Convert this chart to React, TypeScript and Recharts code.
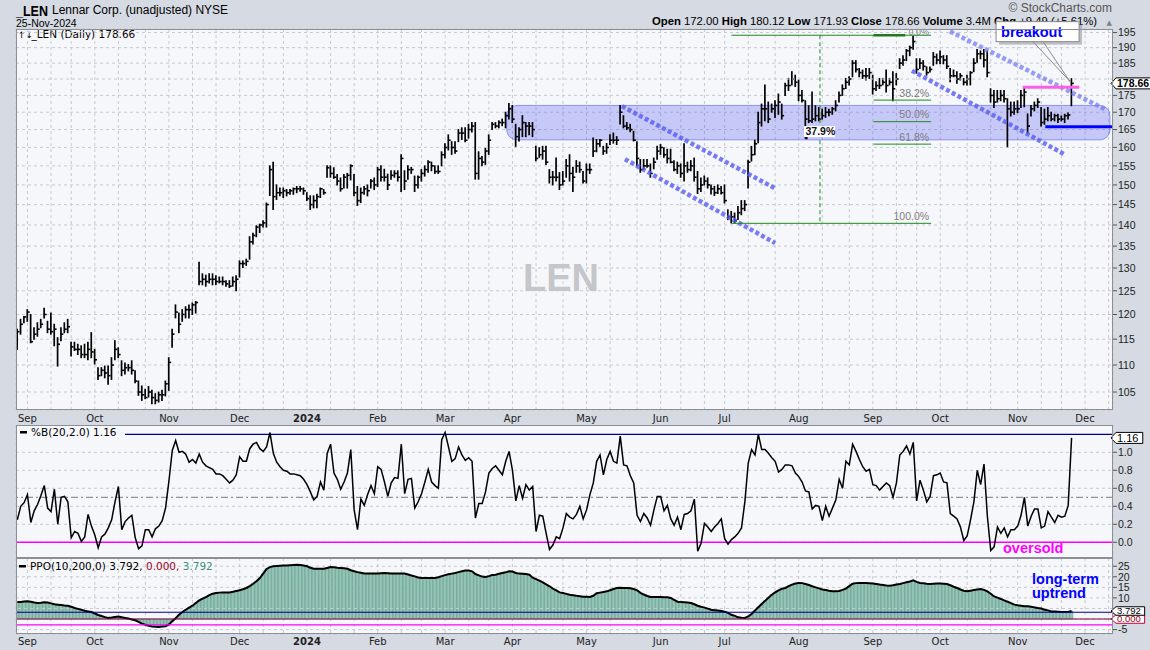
import React from 'react';
import {
  ComposedChart, Bar, Line, XAxis, YAxis, CartesianGrid, ReferenceLine, ReferenceArea, ReferenceDot,
} from 'recharts';

const FONT = "'DejaVu Sans', Verdana, sans-serif";
const HFONT = "'Liberation Sans', Arial, sans-serif";
const FRAME = '#d5dae3';
const PLOT_BG = '#f6f7fb';
const GRID = '#c6c9d0';

// first trading day of each month (bar index, bar 0 = 29-Aug-2023)
const MONTH_IDX = [3, 23, 45, 66, 86, 107, 127, 147, 169, 191, 210, 232, 254, 274, 297, 317];
const MONTH_LBL = ['Sep', 'Oct', 'Nov', 'Dec', '2024', 'Feb', 'Mar', 'Apr', 'May', 'Jun', 'Jul', 'Aug', 'Sep', 'Oct', 'Nov', 'Dec'];

const HIGH = [
  117, 119, 119.6, 121, 120, 117.3, 118.3, 119, 121.3, 118.6,
  120.3, 118, 115.3, 117.3, 118.3, 119, 114.4, 114.4, 114, 113.7,
  114, 114.4, 116.3, 113, 109.5, 109.5, 109.8, 109.8, 111.4, 114.7,
  113.3, 110.8, 110.4, 110.1, 110.8, 108.9, 107, 106.1, 105.5, 106,
  105.3, 104.7, 105, 105.3, 107, 111.4, 117, 122, 120.3, 121,
  121.6, 122, 122.4, 122.7, 131.3, 128.7, 128.4, 128.7, 128.7, 128.3,
  128, 128, 127.2, 127.2, 128, 128.3, 131.6, 131.6, 132, 137.2,
  138, 139.8, 140.2, 141, 145.4, 155, 156, 150, 149.2, 149.2,
  148.8, 148.8, 149.2, 149.6, 149.6, 149.2, 148, 147.2, 147.2, 147.6,
  149.2, 148.8, 155, 155, 154.5, 152.7, 151.8, 152.7, 153, 155.3,
  152.7, 149.6, 149.2, 149.6, 150, 151.4, 151.8, 154.6, 155, 154.1,
  152.8, 153.7, 153.7, 153.7, 158, 153.7, 155, 154.6, 152.3, 152.3,
  154, 155, 156.4, 156, 155, 155, 158.8, 161, 163.5, 161.6,
  161.6, 165, 165.5, 165.5, 166.5, 167, 167, 158.8, 157.5, 159.7,
  163.5, 167, 167, 167.5, 168, 170, 172.6, 172, 166.5, 165.5,
  169, 167, 167, 167, 160.3, 159.9, 160.3, 160.3, 154, 153.5,
  157.1, 153.2, 153.5, 156.7, 158, 154.6, 156.4, 156, 153.5, 155.5,
  155.5, 162.6, 162.2, 162.2, 160.3, 161.1, 163.5, 164, 163, 172,
  169, 167, 166.5, 164.5, 161.6, 156.7, 156.7, 156.7, 155.5, 157.1,
  160.3, 160.8, 159.9, 159.5, 159.5, 156.4, 156, 155.5, 161, 156,
  156.4, 157.1, 153.5, 151.8, 152.3, 151.8, 150, 149.6, 150, 149.6,
  150, 143.7, 143.3, 142.9, 144.5, 146, 146, 156.5, 160.3, 162,
  170, 172.4, 178.2, 173, 172.4, 173.4, 175.4, 172.4, 178.7, 180.2,
  182.3, 181.2, 179.7, 176.5, 173.4, 171.9, 176, 171.9, 171.4, 170.9,
  171.4, 170.9, 171.4, 173.4, 176, 178.2, 180.2, 180.7, 185.8, 185.8,
  183.3, 182.8, 183.3, 183.3, 181.2, 179.2, 180.2, 180.2, 182.8, 180.2,
  182.3, 181.7, 186.4, 187.4, 189.4, 190.5, 193.8, 186.4, 186.4, 185.8,
  183.8, 183.8, 188.4, 187.9, 188.9, 187.4, 187.4, 183.3, 182.8, 182.3,
  181.7, 180.2, 181.2, 182.3, 186.4, 189.4, 188.9, 189.4, 188.9, 177,
  176.5, 176.5, 176.5, 176.5, 174, 173, 173, 173.4, 176.5, 177.6,
  169.5, 172, 173, 174, 171.4, 170.9, 171.4, 170, 169.4, 169.4,
  168.9, 169.4, 169.8, 180.12,
];

const LOW = [
  113, 116, 118.3, 118.6, 114.3, 115, 115.6, 117.3, 119.3, 116.3,
  116, 113.7, 109.8, 114.7, 116.3, 116.3, 111.7, 112.8, 112, 111.4,
  111.4, 111, 111.4, 110.2, 107.3, 108, 107.6, 106.4, 107.3, 111,
  111.4, 108, 108.3, 108.9, 108.3, 106.7, 104.4, 103.5, 103.8, 104.1,
  102.9, 102.9, 103.2, 103.5, 104.3, 105.3, 113.4, 119.3, 116.3, 118.6,
  119.3, 119.3, 120, 120.3, 126.3, 126.3, 126, 126.7, 126.3, 126.3,
  126.7, 126.3, 126, 125.7, 126, 125, 128, 130.1, 130.6, 132,
  135.5, 137.2, 138.2, 139.5, 139.5, 147.3, 143.8, 146.3, 147.2, 146.8,
  147.2, 147.6, 147.6, 148, 148.4, 147.6, 146, 143.8, 144.2, 144.2,
  146.8, 147.6, 152, 152, 151.7, 150, 148.4, 149.2, 149.2, 151.3,
  147.2, 144.8, 145.5, 147.6, 147.2, 149.2, 148.8, 149.6, 151, 151,
  148.8, 151.5, 152, 151, 148.3, 148.8, 151.5, 153, 148.3, 149.2,
  151, 152.3, 153.3, 153.7, 153, 153, 155, 157.1, 159.3, 158.1,
  158.4, 161.6, 162.2, 161.6, 162.6, 164.3, 151.5, 151.5, 155, 155.4,
  158.1, 165, 165.5, 165.5, 166.1, 165.5, 168, 167, 160.3, 161.8,
  163, 163, 163.5, 163, 156.4, 157.3, 156.8, 155.4, 150.5, 150,
  151, 148.8, 150, 152, 151, 148.3, 153.3, 153.3, 150.5, 150.5,
  153, 157.5, 158.8, 160.3, 158.1, 158.4, 160.8, 161.2, 160.8, 166.6,
  165.5, 165, 164.4, 161.8, 155, 153.3, 154.2, 154.6, 152, 154.2,
  156.8, 158.1, 157.3, 155.8, 155.8, 153.7, 153, 152, 151, 153.3,
  153.7, 151, 147.8, 148.3, 150, 149.2, 147.7, 147.3, 147.8, 147.7,
  145.4, 141.3, 140.5, 140.5, 141.3, 142.5, 143.5, 149.2, 156.3, 158,
  161.3, 166, 167.5, 167, 170, 168.5, 169.4, 168, 175, 176.5,
  178.2, 177.7, 173.4, 173, 162.6, 167, 167, 167.5, 167.5, 168,
  168.5, 169, 169.4, 170.4, 173, 175, 177.1, 178.2, 180.7, 182.2,
  180.7, 180.2, 179.7, 180.2, 175.4, 176.5, 177.1, 178.2, 176, 178.2,
  173.4, 178.2, 183.3, 184.3, 185.8, 187.4, 189.5, 181.8, 183.3, 182.8,
  181.2, 182.2, 184.3, 184.8, 184.8, 184.8, 183.3, 179.2, 180.7, 178.7,
  179.7, 178.2, 178.2, 178.2, 182.3, 185.3, 186.4, 183.8, 180.7, 173,
  171.4, 173, 173.4, 173, 160.2, 168.9, 169.4, 169.9, 171.4, 171.6,
  164, 168.9, 170.4, 171.4, 166, 166.5, 167.5, 167.5, 167.5, 167,
  167.5, 167, 168, 171.93,
];

const CLOSE = [
  116.5, 118, 119.5, 120.5, 114.5, 116, 117, 118, 120, 117,
  116.5, 117, 114, 116, 117, 117.5, 113.5, 113, 113, 112,
  112, 113, 112.5, 111, 108, 109, 108.5, 108, 110, 113,
  112, 109, 109.5, 109.5, 109, 107, 105, 104.5, 104, 105,
  104, 103.5, 104.5, 104.5, 106.5, 110.5, 116, 120.5, 118, 120,
  121, 121, 122, 122.5, 127, 127.5, 127, 127.5, 127.5, 127,
  127, 127, 126.5, 126, 127, 127.5, 131, 131, 131.5, 136,
  137.5, 139.5, 140, 140.5, 145, 154, 147, 148, 148, 148.5,
  148, 148.5, 149, 149, 149, 148.5, 146.5, 145, 146, 147,
  149, 148, 154.5, 153, 152, 151, 149, 152, 152.5, 155,
  148, 146, 148, 149, 148.5, 151, 150, 154, 152, 152,
  150, 152.5, 153, 152, 157, 151, 154, 154, 150, 152,
  153, 154, 156, 155, 153.5, 153.5, 158, 160, 162, 160,
  159, 164, 164, 162, 165, 166, 153, 157, 156, 159,
  162, 166.5, 166, 167, 167, 169, 171, 168, 163, 165,
  167, 166, 166, 165, 157, 158, 159, 156, 152, 152,
  152, 150, 151, 155, 153, 152, 155, 154, 151, 154,
  154, 159, 161, 162, 159, 160, 162, 162, 162, 170,
  166, 165.5, 165, 162, 157, 154, 155, 155, 153, 156,
  159, 160, 158, 157, 156, 154, 155, 153, 155, 154,
  155, 152, 149, 150, 151, 150, 149, 148, 149, 148,
  146, 142, 142, 141, 143, 144, 145, 156, 158, 161,
  167, 171, 171, 168, 171, 172, 173, 169, 178, 178,
  180, 179, 175, 173.5, 168, 167.5, 168, 169, 168, 169,
  170, 170, 171, 172, 175, 177, 179, 180, 185, 183,
  182, 181, 181, 182, 177, 178, 178, 179, 178, 179,
  177, 180, 185, 186, 189, 190, 192, 183, 185, 184,
  182, 183, 187, 186, 187, 186, 184, 181, 181, 180,
  181, 179, 180, 182, 185, 188, 188, 186, 182, 175,
  173, 174, 175, 174, 171, 170, 171, 171, 175, 176,
  166, 171, 172, 173, 167, 168, 169, 168, 169, 168,
  168, 169, 169.2, 178.66,
];

const PCTB = [
  0.25, 0.40, 0.44, 0.53, 0.22, 0.35, 0.42, 0.52, 0.63, 0.38,
  0.34, 0.59, 0.20, 0.50, 0.51, 0.45, 0.05, 0.12, 0.10, 0.01,
  0.06, 0.31, 0.18, 0.08, -0.06, 0.06, 0.09, 0.16, 0.25, 0.45,
  0.62, 0.14, 0.23, 0.27, 0.30, 0.05, -0.07, -0.04, 0.14, 0.14,
  0.06, 0.15, 0.18, 0.24, 0.38, 0.68, 1.02, 1.13, 1.00, 1.01,
  0.98, 0.89, 0.92, 0.88, 0.98, 0.89, 0.85, 0.83, 0.81, 0.76,
  0.76, 0.74, 0.70, 0.66, 0.69, 0.75, 0.95, 0.90, 0.90, 1.04,
  1.09, 1.11, 1.04, 1.01, 1.06, 1.22, 0.99, 0.89, 0.84, 0.80,
  0.79, 0.76, 0.76, 0.75, 0.74, 0.70, 0.64, 0.56, 0.47, 0.51,
  0.67, 0.58, 0.99, 1.09, 0.77, 0.70, 0.59, 0.67, 0.77, 1.03,
  0.36, 0.14, 0.48, 0.41, 0.53, 0.63, 0.54, 0.84, 0.81, 0.67,
  0.51, 0.66, 0.72, 0.71, 1.09, 0.54, 0.70, 0.71, 0.38, 0.45,
  0.54, 0.67, 0.81, 0.67, 0.63, 0.60, 1.14, 1.22, 1.06, 0.90,
  0.93, 1.06, 0.97, 0.91, 0.94, 0.90, 0.27, 0.43, 0.43, 0.56,
  0.77, 0.82, 0.85, 0.80, 0.75, 0.90, 1.01, 0.80, 0.46, 0.63,
  0.49, 0.64, 0.58, 0.62, 0.12, 0.30, 0.29, 0.10, -0.08, -0.03,
  0.06, 0.04, 0.16, 0.32, 0.28, 0.26, 0.31, 0.40, 0.26, 0.36,
  0.53, 0.66, 0.90, 0.97, 0.75, 0.92, 1.01, 0.90, 0.88, 1.18,
  0.86, 0.85, 0.74, 0.66, 0.30, 0.23, 0.32, 0.27, 0.19, 0.36,
  0.51, 0.51, 0.35, 0.41, 0.26, 0.19, 0.28, 0.14, 0.31, 0.32,
  0.35, 0.48, -0.10, -0.01, 0.21, 0.17, 0.12, 0.17, 0.21, 0.26,
  0.04, -0.02, 0.03, 0.06, 0.10, 0.16, 0.45, 0.88, 1.03, 0.97,
  1.20, 1.03, 1.03, 0.99, 0.94, 0.90, 0.78, 0.81, 0.86, 0.86,
  0.85, 0.77, 0.73, 0.67, 0.57, 0.56, 0.37, 0.41, 0.40, 0.24,
  0.40, 0.29, 0.38, 0.47, 0.70, 0.60, 0.90, 0.86, 1.09, 1.01,
  0.92, 0.84, 0.79, 0.81, 0.64, 0.63, 0.58, 0.62, 0.66, 0.63,
  0.50, 0.66, 0.97, 1.01, 1.07, 0.98, 1.11, 0.46, 0.69, 0.58,
  0.45, 0.51, 0.74, 0.75, 0.77, 0.67, 0.66, 0.32, 0.29, 0.26,
  0.17, 0.02, 0.07, 0.25, 0.45, 0.80, 0.64, 0.87, 0.29, -0.09,
  -0.05, 0.17, 0.10, 0.16, 0.06, 0.14, 0.14, 0.18, 0.30, 0.50,
  0.18, 0.29, 0.37, 0.37, 0.16, 0.18, 0.34, 0.28, 0.22, 0.30,
  0.28, 0.29, 0.41, 1.16,
];

const PPO = [
  8.0, 8.1, 8.3, 8.4, 8.2, 7.8, 7.6, 7.7, 7.9, 7.8,
  7.4, 7.0, 6.8, 6.6, 6.4, 6.3, 5.8, 5.2, 4.8, 4.4,
  3.9, 3.6, 3.3, 2.6, 1.9, 1.4, 0.9, 0.5, 0.7, 1.0,
  1.2, 0.8, 0.5, 0.2, -0.2, -0.6, -1.4, -2.2, -2.7, -3.2,
  -3.5, -3.7, -3.8, -3.6, -3.4, -2.6, -1.1, 0.4, 2.0, 3.3,
  4.4, 5.4, 6.3, 7.6, 8.8, 9.7, 10.4, 11.3, 12.0, 12.3,
  12.5, 12.6, 12.6, 12.6, 12.9, 13.3, 13.6, 14.1, 14.7, 15.6,
  16.7, 17.9, 19.4, 21.5, 23.7, 24.6, 25.0, 25.1, 25.2, 25.3,
  25.4, 25.5, 25.6, 25.7, 25.6, 25.3, 25.0, 24.3, 23.8, 23.8,
  23.8, 23.8, 24.2, 24.6, 24.5, 24.3, 24.2, 24.0, 23.8, 23.1,
  22.6, 22.2, 21.9, 21.6, 21.5, 21.5, 21.5, 21.6, 21.7, 21.8,
  21.7, 21.6, 21.5, 21.5, 21.5, 21.5, 21.1, 20.6, 20.2, 19.7,
  19.4, 19.4, 19.4, 19.4, 19.4, 19.8, 20.3, 20.8, 21.2, 21.5,
  21.8, 22.2, 22.6, 23.0, 23.0, 22.6, 21.3, 20.7, 20.1, 19.9,
  20.3, 20.8, 21.0, 21.4, 21.8, 22.1, 22.6, 22.5, 21.8, 21.5,
  21.4, 21.3, 21.0, 19.6, 18.9, 18.2, 17.3, 16.4, 15.5, 14.4,
  13.6, 12.6, 12.3, 11.9, 11.5, 11.3, 11.0, 10.8, 10.6, 10.5,
  10.4, 11.0, 12.2, 12.5, 12.8, 13.1, 13.6, 14.2, 14.7, 14.8,
  14.7, 14.7, 14.6, 14.2, 13.6, 12.4, 11.6, 10.9, 10.4, 10.4,
  10.4, 10.4, 10.3, 10.3, 10.0, 9.1, 8.2, 8.0, 7.9, 7.8,
  7.6, 7.0, 6.3, 5.8, 5.4, 4.9, 4.4, 4.2, 4.0, 3.8,
  3.5, 2.9, 2.0, 1.5, 0.8, 0.6, 0.5, 1.2, 2.4, 4.0,
  5.6, 7.1, 8.6, 10.1, 11.5, 12.6, 13.6, 14.3, 14.7, 15.6,
  16.3, 16.8, 17.1, 17.0, 16.6, 16.1, 15.5, 15.0, 14.5, 14.0,
  13.7, 13.4, 13.2, 13.1, 13.3, 13.8, 14.4, 15.6, 16.7, 17.0,
  17.1, 17.1, 17.0, 16.9, 16.8, 16.6, 16.3, 16.1, 15.9, 15.8,
  16.0, 16.3, 16.6, 17.0, 17.4, 17.8, 18.3, 17.6, 17.1, 16.9,
  16.7, 16.6, 16.7, 16.8, 16.8, 16.7, 16.6, 16.0, 15.3, 14.7,
  14.0, 13.4, 13.1, 13.4, 13.7, 14.0, 14.2, 13.8, 13.1, 12.0,
  10.7, 10.1, 9.5, 8.8, 8.2, 7.5, 6.8, 6.5, 6.3, 6.1,
  6.0, 5.8, 5.5, 5.2, 5.0, 4.4, 4.1, 3.6, 3.5, 3.4,
  3.3, 3.3, 3.3, 3.792,
];

// tick labels shown on the right axes (180, 5 and 0 sit under the value tags)
const PRICE_TICKS = [105, 110, 115, 120, 125, 130, 135, 140, 145, 150, 155, 160, 165, 170, 175, 185, 190, 195];
const PRICE_HIDDEN_GRID = [180];
const PCTB_TICKS = [0, 0.2, 0.4, 0.6, 0.8, 1.0];
const PPO_TICKS = [-5, 10, 15, 20, 25];
const PPO_HIDDEN_GRID = [0, 5];

// drawn annotations (in bar index / price units)
const FIB_HIGH = 194.1;
const FIB_LOW = 140.4;
const FIB_RATIOS = [0.382, 0.5, 0.618];
const ZONE = { x1: 145.3, x2: 324.4, y1: 162.1, y2: 172.0 };
const CHANNELS = [
  [{ x: 179.5, y: 171.8 }, { x: 225, y: 149.1 }],
  [{ x: 180.4, y: 156.8 }, { x: 225, y: 135.7 }],
  [{ x: 276.9, y: 195.4 }, { x: 322.9, y: 170.9 }],
  [{ x: 265.6, y: 182.6 }, { x: 311.1, y: 158.0 }],
];
const PINK = { x1: 298.5, x2: 315.3, y: 177.5 };
const SUPPORT = { x1: 305.2, x2: 325.3, y: 165.8 };
const RETRACE_LOW = { x: 234, y: 162.6, label: '37.9%' };

const X_DOMAIN: [number, number] = [-0.4, 325.3];
const LAST = CLOSE.length - 1;

const GRID_TICKS: number[] = [];
MONTH_IDX.forEach((m, k) => {
  const next = k < MONTH_IDX.length - 1 ? MONTH_IDX[k + 1] : m + 21;
  const step = (next - m) / 3;
  [0, 1, 2].forEach((j) => {
    const t = Math.round(m + j * step);
    if (t <= X_DOMAIN[1]) GRID_TICKS.push(t);
  });
});

const rows = CLOSE.map((c, i) => ({
  i, range: [LOW[i], HIGH[i]], high: HIGH[i], low: LOW[i], close: c, pctB: PCTB[i], ppo: PPO[i],
}));

const OhlcBar = (props: any) => {
  const { x, y, width, height, payload } = props;
  if (x == null || y == null || !payload) return null;
  const cx = x + width / 2;
  const top = Math.min(y, y + height);
  const bot = Math.max(y, y + height);
  const span = Math.log(payload.high) - Math.log(payload.low) || 1;
  const yc = top + (bot - top) * (Math.log(payload.high) - Math.log(payload.close)) / span;
  return (
    <g>
      <line x1={cx} x2={cx} y1={top - 0.5} y2={bot + 0.5} stroke="#000" strokeWidth={1.7} />
      <line x1={cx} x2={cx + 2.4} y1={yc} y2={yc} stroke="#000" strokeWidth={1.6} />
    </g>
  );
};

const MonthTick = (props: any) => {
  const { x, y, payload, off } = props;
  const k = MONTH_IDX.indexOf(payload.value);
  if (k < 0) return null;
  const lbl = MONTH_LBL[k];
  return (
    <text x={x} y={y + off} textAnchor="middle" fontSize={10} fontFamily={FONT}
      fontWeight={lbl === '2024' ? 700 : 400} fill="#222">{lbl}</text>
  );
};

const ValueTag = (props: any) => {
  const { viewBox, text, bold, color = '#000', border = '#000', h = 11, size = 11 } = props;
  if (!viewBox) return null;
  const x0 = viewBox.x + viewBox.width - 2;
  const y0 = viewBox.y;
  const w = text.length * (size * 0.54) + 3;
  return (
    <g>
      <path
        d={`M${x0} ${y0} L${x0 + 5} ${y0 - h / 2} L${x0 + 5 + w} ${y0 - h / 2} L${x0 + 5 + w} ${y0 + h / 2} L${x0 + 5} ${y0 + h / 2} Z`}
        fill="#fff" stroke={border} strokeWidth={1}
      />
      <text x={x0 + 6} y={y0 + size * 0.36} fontSize={size} fontWeight={bold ? 700 : 400} fill={color} fontFamily={HFONT}>{text}</text>
    </g>
  );
};

const FibLabel = (props: any) => {
  const { cx, cy, text, top } = props;
  if (cx == null) return null;
  return (
    <g clipPath="url(#mainPlotClip)">
      <text x={cx - 2} y={top ? cy - 0.5 : cy - 3.5} textAnchor="end" fontSize={top ? 9 : 10.5} fill="#7d7d7d" fontFamily={HFONT}>{text}</text>
    </g>
  );
};

const RetraceMark = (props: any) => {
  const { cx, cy } = props;
  if (cx == null) return null;
  return (
    <g>
      <circle cx={cx + 1} cy={cy} r={1.3} fill="#000" />
      <rect x={cx - 1.5} y={cy - 12} width={31} height={11} fill="#fff" />
      <text x={cx} y={cy - 3} fontSize={10.5} fontWeight={600} fill="#111" fontFamily={HFONT}>{RETRACE_LOW.label}</text>
    </g>
  );
};

const Callout = (props: any) => {
  const { cx, cy } = props;
  if (cx == null) return null;
  const bx = cx - 75.5;
  const by = cy - 57;
  const bw = 83;
  const bh = 20;
  return (
    <g>
      <rect x={bx + 3} y={by + 3} width={bw} height={bh} fill="#a3a6ad" opacity={0.7} />
      <rect x={bx} y={by} width={bw} height={bh} fill="#fff" stroke="#8a8a8a" />
      <path d={`M${bx + 37} ${by + bh} L${cx - 1.5} ${cy + 3} L${bx + 47} ${by + bh}`} fill="none" stroke="#8a8a8a" strokeWidth={1} />
      <text x={bx + 5} y={by + 15} fontSize={14.5} fontWeight={700} fill="#0000ff" fontFamily={HFONT}>breakout</text>
    </g>
  );
};

const ZoneShape = (props: any) => {
  const { x, y, width, height } = props;
  if (x == null) return null;
  return (
    <rect x={x} y={y} width={width} height={height} rx={10} ry={10}
      fill="rgba(60,70,240,0.26)" stroke="rgba(60,70,240,0.5)" strokeWidth={1} />
  );
};

const yTick = { fontSize: 10.5, fill: '#222', fontFamily: HFONT };

const MainPanel = () => (
  <ComposedChart width={1150} height={430} data={rows} margin={{ top: 29, right: 0, bottom: 0, left: 16 }}>
    <defs>
      <clipPath id="mainPlotClip">
        <rect x={16} y={29} width={1097} height={381} />
      </clipPath>
    </defs>
    <CartesianGrid stroke={GRID} strokeDasharray="3 3" />
    <XAxis dataKey="i" type="number" domain={X_DOMAIN} allowDataOverflow ticks={GRID_TICKS} interval={0}
      tick={<MonthTick off={12} />} tickLine={false} axisLine={false} tickSize={0} tickMargin={0} height={20} />
    <YAxis orientation="right" scale="log" type="number" domain={[101.8, 196.2]} allowDataOverflow
      ticks={PRICE_TICKS} interval={0} width={37} tickSize={4} tickMargin={1} axisLine={false}
      tick={yTick} tickLine={{ stroke: '#555' }} />
    {PRICE_HIDDEN_GRID.map((p) => (
      <ReferenceLine key={`pg-${p}`} y={p} stroke={GRID} strokeDasharray="3 3" />
    ))}

    <ReferenceArea x1={ZONE.x1} x2={ZONE.x2} y1={ZONE.y1} y2={ZONE.y2} shape={<ZoneShape />} ifOverflow="visible" />

    {CHANNELS.map((seg, k) => (
      <ReferenceLine key={`ch-${k}`} segment={seg} stroke={k === 2 ? 'rgba(110,116,242,0.7)' : 'rgba(84,90,240,0.78)'}
        strokeWidth={4.5} strokeDasharray="4 2.5" ifOverflow="visible" />
    ))}

    {/* Fibonacci retracement */}
    <ReferenceLine segment={[{ x: 212, y: FIB_HIGH }, { x: 271.3, y: FIB_HIGH }]} stroke="#1d8a1d" strokeWidth={1} ifOverflow="visible" />
    <ReferenceLine segment={[{ x: 254.2, y: FIB_HIGH }, { x: 263.6, y: FIB_HIGH }]} stroke="#1d7a1d" strokeWidth={2.5} ifOverflow="visible" />
    <ReferenceLine segment={[{ x: 212, y: FIB_LOW }, { x: 271.3, y: FIB_LOW }]} stroke="#1d8a1d" strokeWidth={1} ifOverflow="visible" />
    {FIB_RATIOS.map((r) => (
      <ReferenceLine key={`fib-${r}`} segment={[{ x: 254.2, y: FIB_HIGH - r * (FIB_HIGH - FIB_LOW) }, { x: 271.3, y: FIB_HIGH - r * (FIB_HIGH - FIB_LOW) }]}
        stroke="#1d8a1d" strokeWidth={1} ifOverflow="visible" />
    ))}
    <ReferenceLine segment={[{ x: 238.3, y: FIB_HIGH }, { x: 238.3, y: FIB_LOW }]} stroke="#1d8a1d" strokeWidth={1} strokeDasharray="4 3" ifOverflow="visible" />
    {[0, ...FIB_RATIOS, 1].map((r) => (
      <ReferenceDot key={`fibl-${r}`} x={271.3} y={FIB_HIGH - r * (FIB_HIGH - FIB_LOW)} r={0} ifOverflow="visible"
        shape={<FibLabel text={`${(r * 100).toFixed(1)}%`} top={r === 0} />} />
    ))}

    <Bar dataKey="range" barSize={3} shape={<OhlcBar />} isAnimationActive={false} />

    <ReferenceLine segment={[{ x: PINK.x1, y: PINK.y }, { x: PINK.x2, y: PINK.y }]} stroke="#ff5ce8" strokeWidth={3} ifOverflow="visible" />
    <ReferenceLine segment={[{ x: SUPPORT.x1, y: SUPPORT.y }, { x: SUPPORT.x2, y: SUPPORT.y }]} stroke="#0000ff" strokeWidth={3} ifOverflow="visible" />

    <ReferenceDot x={RETRACE_LOW.x} y={RETRACE_LOW.y} r={0} ifOverflow="visible" shape={<RetraceMark />} />
    <ReferenceDot x={LAST} y={HIGH[LAST]} r={0} ifOverflow="visible" shape={<Callout />} />
    <ReferenceLine y={CLOSE[LAST]} stroke="none" label={<ValueTag text={CLOSE[LAST].toFixed(2)} bold size={10.5} />} />
  </ComposedChart>
);

const PctBPanel = () => (
  <ComposedChart width={1150} height={133} data={rows} margin={{ top: 0, right: 0, bottom: 0, left: 16 }}>
    <CartesianGrid stroke={GRID} strokeDasharray="3 3" />
    <XAxis dataKey="i" type="number" domain={X_DOMAIN} allowDataOverflow ticks={GRID_TICKS} interval={0}
      tick={false} tickLine={false} axisLine={false} height={0} />
    <YAxis orientation="right" type="number" domain={[-0.1744, 1.3033]} allowDataOverflow ticks={PCTB_TICKS} interval={0}
      width={37} tickSize={4} tickMargin={1} axisLine={false} tick={yTick} tickLine={{ stroke: '#555' }}
      tickFormatter={(v: number) => v.toFixed(1)} />
    <ReferenceLine y={1.2} stroke="#00007f" strokeWidth={1.2} />
    <ReferenceLine y={0.5} stroke="#7a7a7a" strokeWidth={1} strokeDasharray="7 3 2 3" />
    <ReferenceLine y={0} stroke="#ff00ff" strokeWidth={1.5} />
    <Line dataKey="pctB" type="linear" stroke="#000" strokeWidth={1.5} dot={false} isAnimationActive={false} />
    <ReferenceLine y={PCTB[LAST]} stroke="none" label={<ValueTag text={PCTB[LAST].toFixed(2)} />} />
  </ComposedChart>
);

const PpoPanel = () => (
  <ComposedChart width={1150} height={92} data={rows} margin={{ top: 0, right: 0, bottom: 0, left: 16 }}>
    <CartesianGrid stroke={GRID} strokeDasharray="3 3" />
    <XAxis dataKey="i" type="number" domain={X_DOMAIN} allowDataOverflow ticks={GRID_TICKS} interval={0}
      tick={<MonthTick off={11} />} tickLine={false} axisLine={false} tickSize={0} tickMargin={0} height={16} />
    <YAxis orientation="right" type="number" domain={[-7.1, 28.9]} allowDataOverflow ticks={PPO_TICKS} interval={0}
      width={37} tickSize={4} tickMargin={1} axisLine={false} tick={yTick} tickLine={{ stroke: '#555' }} />
    {PPO_HIDDEN_GRID.map((v) => (
      <ReferenceLine key={`ppg-${v}`} y={v} stroke={GRID} strokeDasharray="3 3" />
    ))}
    <Bar dataKey="ppo" barSize={3.37} fill="#93c6b6" stroke="#4f8676" strokeWidth={0.45} isAnimationActive={false} />
    <Line dataKey="ppo" type="linear" stroke="#000" strokeWidth={2} dot={false} isAnimationActive={false} />
    <ReferenceLine y={3.2} stroke="#00007f" strokeWidth={1.2} />
    <ReferenceLine y={0} stroke="#80003a" strokeWidth={1.2} />
    <ReferenceLine y={-2.8} stroke="#ff00ff" strokeWidth={1.2} />
    <ReferenceLine y={0} stroke="none" label={<ValueTag text="0.000" color="#9a0020" border="#c0003a" h={8.5} size={9.5} />} />
    <ReferenceLine y={PPO[LAST]} stroke="none" label={<ValueTag text={PPO[LAST].toFixed(3)} h={8.5} size={9.5} />} />
  </ComposedChart>
);

const boxStyle = (left: number, top: number, width: number, height: number, bg?: string): React.CSSProperties => ({
  position: 'absolute', left, top, width, height, boxSizing: 'border-box',
  border: '1px solid #8c8f96', background: bg || 'transparent', pointerEvents: 'none',
});

export default function App() {
  return (
    <div style={{ position: 'absolute', left: 0, top: 0, width: 1150, height: 650, background: FRAME, overflow: 'hidden' }}>
      <div style={boxStyle(16, 29, 1097, 381, PLOT_BG)} />
      <div style={boxStyle(16, 425, 1097, 133, PLOT_BG)} />
      <div style={boxStyle(16, 558, 1097, 76, PLOT_BG)} />

      <svg width={1150} height={650} style={{ position: 'absolute', left: 0, top: 0 }}>
        <text x={16} y={15.5} fontSize={15} fontWeight={700} fontFamily={HFONT} fill="#000"
          textLength={32} lengthAdjust="spacingAndGlyphs">_LEN</text>
        <text x={52} y={14} fontSize={12} fontFamily={HFONT} fill="#000">Lennar Corp. (unadjusted) NYSE</text>
        <text x={16} y={27} fontSize={10.5} fontFamily={HFONT} fill="#000">25-Nov-2024</text>
        <text x={1112} y={12} fontSize={12} fontFamily={HFONT} fill="#555" textAnchor="end">© StockCharts.com</text>
        <text x={652} y={25} fontSize={11.3} fontFamily={HFONT} fill="#000">
          <tspan fontWeight={700}>Open </tspan><tspan>172.00 </tspan>
          <tspan fontWeight={700}>High </tspan><tspan>180.12 </tspan>
          <tspan fontWeight={700}>Low </tspan><tspan>171.93 </tspan>
          <tspan fontWeight={700}>Close </tspan><tspan>178.66 </tspan>
          <tspan fontWeight={700}>Volume </tspan><tspan>3.4M </tspan>
          <tspan fontWeight={700}>Chg </tspan><tspan>+9.49 (+5.61%)</tspan>
        </text>
        <text x={1106.5} y={25} fontSize={7} fill="#7a7f88" fontFamily={FONT}>▲</text>
        <text x={18} y={38} fontSize={9} fontFamily={FONT} fill="#000">↑↓</text>
        <text x={31.5} y={38} fontSize={10.5} fontFamily={FONT} fill="#000">_LEN (Daily) 178.66</text>
        <text x={561} y={291} fontSize={38} fontWeight={700} fontFamily={HFONT} fill="#c5c6c9" textAnchor="middle">LEN</text>
      </svg>

      <div style={{ position: 'absolute', left: 0, top: 0 }}><MainPanel /></div>
      <div style={{ position: 'absolute', left: 0, top: 425 }}><PctBPanel /></div>
      <div style={{ position: 'absolute', left: 0, top: 558 }}><PpoPanel /></div>

      <svg width={1150} height={650} style={{ position: 'absolute', left: 0, top: 0, pointerEvents: 'none' }}>
        <rect x={17} y={426} width={108} height={13} fill={PLOT_BG} />
        <rect x={20} y={431} width={7} height={2.5} fill="#000" />
        <text x={31} y={436} fontSize={10.5} fontFamily={FONT} fill="#000">%B(20,2.0) 1.16</text>
        <rect x={19} y={565} width={7} height={2.5} fill="#000" />
        <text x={30} y={570} fontSize={10.5} fontFamily={FONT} fill="#000">
          <tspan>PPO(10,200,0) 3.792, </tspan>
          <tspan fill="#9a0020">0.000, </tspan>
          <tspan fill="#3f8f7f">3.792</tspan>
        </text>
        <text x={1003} y={553} fontSize={14.5} fontWeight={700} fontFamily={HFONT} fill="#ff00ff">oversold</text>
        <text x={1032} y={584} fontSize={14.5} fontWeight={700} fontFamily={HFONT} fill="#0000ff">long-term</text>
        <text x={1032} y={598} fontSize={14.5} fontWeight={700} fontFamily={HFONT} fill="#0000ff">uptrend</text>
      </svg>

      <div style={boxStyle(16, 29, 1097, 381)} />
      <div style={boxStyle(16, 425, 1097, 133)} />
      <div style={boxStyle(16, 558, 1097, 76)} />
    </div>
  );
}
